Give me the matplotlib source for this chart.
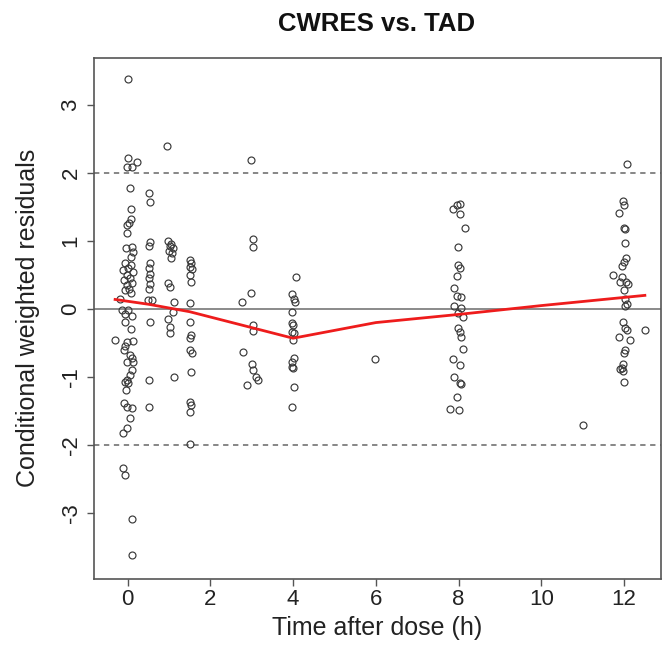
import matplotlib
matplotlib.use("Agg")
import matplotlib.pyplot as plt

plt.rcParams['font.family'] = ['Liberation Sans', 'DejaVu Sans']

# ---- data ----
tad_0 = [0.01, 0.01, -0.01, 0.11, 0.23, 0.06, 0.08, 0.08, 0.04, -0.01, -0.01, -0.04, 0.11, 0.13, 0.08,
         -0.06, 0.08, 0.01, -0.11, 0.13, -0.01, 0.06, -0.08, 0.11, -0.01, 0.04, -0.06, 0.08, -0.18,
         -0.13, 0.01, -0.06, 0.11, -0.06, 0.08, -0.30, -0.01, 0.13, -0.06, -0.08, 0.06, 0.11, -0.01,
         0.13, 0.11, 0.06, -0.01, -0.06, 0.01, -0.04, -0.08, -0.01, 0.11, 0.06, -0.01, -0.11, -0.11,
         -0.06, 0.11, 0.11]
cwres_0 = [3.38, 2.22, 2.09, 2.09, 2.16, 1.78, 1.47, 1.32, 1.26, 1.24, 1.12, 0.90, 0.91, 0.84, 0.76,
           0.68, 0.65, 0.60, 0.57, 0.55, 0.50, 0.46, 0.42, 0.38, 0.35, 0.30, 0.28, 0.23, 0.15,
           -0.01, -0.02, -0.07, -0.10, -0.19, -0.30, -0.46, -0.48, -0.47, -0.55, -0.60, -0.68, -0.72,
           -0.78, -0.78, -0.90, -0.97, -1.04, -1.07, -1.09, -1.19, -1.38, -1.44, -1.46, -1.60, -1.75,
           -1.82, -2.34, -2.44, -3.09, -3.62]

tad_05 = [0.52, 0.55, 0.55, 0.53, 0.55, 0.52, 0.55, 0.53, 0.55, 0.52, 0.50, 0.58, 0.55, 0.53, 0.53]
cwres_05 = [1.70, 1.57, 0.98, 0.93, 0.68, 0.60, 0.52, 0.45, 0.37, 0.30, 0.13, 0.13, -0.19, -1.04, -1.44]

tad_1 = [0.96, 0.98, 1.05, 1.02, 1.10, 1.00, 1.08, 1.05, 0.98, 1.03, 1.12, 1.10, 0.98, 1.02, 1.03, 1.12]
cwres_1 = [2.40, 1.00, 0.96, 0.92, 0.90, 0.85, 0.82, 0.75, 0.38, 0.32, 0.10, -0.04, -0.14, -0.26, -0.36, -1.00]

tad_15 = [1.50, 1.53, 1.50, 1.55, 1.50, 1.53, 1.50, 1.50, 1.53, 1.50, 1.52, 1.55, 1.53, 1.50, 1.53, 1.50, 1.50]
cwres_15 = [0.72, 0.68, 0.62, 0.59, 0.50, 0.40, 0.09, -0.19, -0.38, -0.43, -0.60, -0.64, -0.93,
            -1.37, -1.41, -1.51, -1.98]

tad_3 = [2.98, 3.03, 3.03, 2.98, 2.76, 3.03, 3.03, 2.80, 3.00, 3.03, 3.10, 3.15, 2.88]
cwres_3 = [2.19, 1.03, 0.91, 0.24, 0.10, -0.24, -0.33, -0.63, -0.81, -0.90, -1.00, -1.04, -1.12]

tad_4 = [4.08, 3.98, 4.02, 4.05, 3.98, 3.98, 4.00, 3.97, 4.03, 4.00, 4.03, 3.98, 3.97, 4.00, 4.03, 3.98]
cwres_4 = [0.47, 0.22, 0.15, 0.10, -0.04, -0.20, -0.24, -0.34, -0.35, -0.46, -0.72, -0.78, -0.85,
           -0.87, -1.15, -1.44]

tad_6 = [5.98]
cwres_6 = [-0.73]

tad_8 = [7.87, 7.95, 8.03, 8.03, 8.15, 7.98, 7.98, 8.03, 7.96, 7.90, 8.05, 7.95, 7.90, 8.06, 7.98,
         8.10, 7.98, 8.03, 8.06, 8.11, 7.87, 8.04, 7.88, 8.03, 8.06, 7.96, 7.80, 8.00]
cwres_8 = [1.47, 1.53, 1.54, 1.40, 1.19, 0.91, 0.65, 0.60, 0.49, 0.31, 0.18, 0.19, 0.04, 0.01, -0.06,
           -0.12, -0.28, -0.34, -0.41, -0.59, -0.74, -0.82, -1.00, -1.09, -1.10, -1.29, -1.47, -1.49]

tad_11 = [11.0]
cwres_11 = [-1.70]

tad_12 = [12.07, 11.96, 11.99, 11.87, 12.00, 12.03, 12.02, 12.04, 11.99, 11.94, 11.73, 11.94, 12.04,
          12.10, 11.90, 11.99, 12.02, 12.06, 12.02, 11.97, 12.02, 12.06, 12.50, 11.88, 12.15, 12.02,
          11.99, 11.97, 11.94, 11.90, 11.97, 11.99]
cwres_12 = [2.13, 1.59, 1.53, 1.41, 1.19, 1.18, 0.97, 0.75, 0.69, 0.63, 0.50, 0.47, 0.40, 0.37, 0.40,
            0.28, 0.15, 0.07, 0.04, -0.19, -0.28, -0.31, -0.31, -0.41, -0.46, -0.60, -0.65, -0.81,
            -0.87, -0.88, -0.91, -1.07]

smooth_tad = [-0.3, 0.5, 1.5, 4.0, 6.0, 8.0, 10.0, 12.5]
smooth_cwres = [0.14, 0.07, -0.04, -0.43, -0.20, -0.08, 0.05, 0.20]

x_ticks = [0, 2, 4, 6, 8, 10, 12]
y_ticks = [-3, -2, -1, 0, 1, 2, 3]
ref_lines = [-2, 2]

title = "CWRES vs. TAD"
x_label = "Time after dose (h)"
y_label = "Conditional weighted residuals"

# ---- figure ----
W, H = 662, 661
fig = plt.figure(figsize=(W / 100, H / 100), dpi=100)
ax = fig.add_axes([94 / W, 1 - 579 / H, (661 - 94) / W, (579 - 58) / H])

axis_col = '#555555'
ax.axhline(0, color='#777777', lw=1.2, zorder=1)
for r in ref_lines:
    ax.axhline(r, color='#666666', lw=1.1, ls=(0, (3.5, 3)), zorder=1)

groups = [(tad_0, cwres_0), (tad_05, cwres_05), (tad_1, cwres_1), (tad_15, cwres_15),
          (tad_3, cwres_3), (tad_4, cwres_4), (tad_6, cwres_6), (tad_8, cwres_8),
          (tad_11, cwres_11), (tad_12, cwres_12)]
for gx, gy in groups:
    ax.plot(gx, gy, ls='none', marker='o', ms=5.0, mfc='none', mec='#3a3a3a', mew=0.85, zorder=2)

ax.plot(smooth_tad, smooth_cwres, color='#ee1c1c', lw=2.0, zorder=3)

ax.set_xlim(-0.81, 12.89)
ax.set_ylim(-3.97, 3.69)
ax.set_xticks(x_ticks)
ax.set_yticks(y_ticks)
ax.set_xticklabels([str(v) for v in x_ticks])
ax.set_yticklabels([str(v) for v in y_ticks], rotation=90, va='center')
ax.tick_params(axis='both', direction='out', length=5, width=1, color=axis_col,
               labelsize=16, labelcolor='#222222')
ax.tick_params(axis='x', pad=2)
ax.tick_params(axis='y', pad=4)
for s in ax.spines.values():
    s.set_color(axis_col)
    s.set_linewidth(1.2)

fig.text(377 / W, 1 - 24 / H, title, ha='center', va='center', fontsize=18.5,
         fontweight='bold', color='#111111')
fig.text(377 / W, 1 - 628 / H, x_label, ha='center', va='center', fontsize=18, color='#222222')
fig.text(28 / W, 1 - 318 / H, y_label, ha='center', va='center', rotation=90, fontsize=18,
         color='#222222')

fig.savefig("out.png", dpi=100)
